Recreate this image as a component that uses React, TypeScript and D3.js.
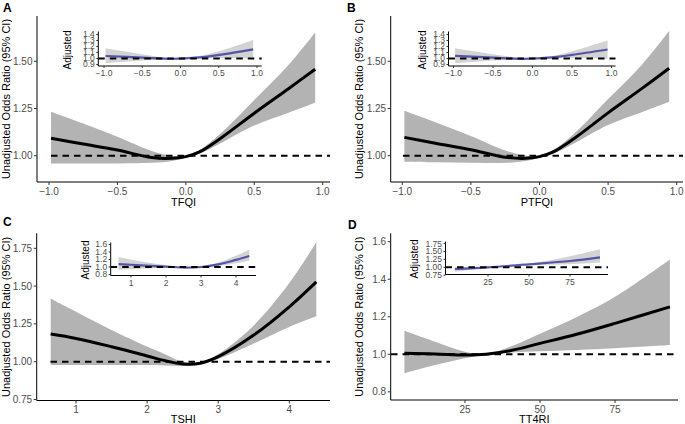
import React from "react";
import * as d3 from "d3";

// ---------- DATA ----------
// Panel A: TFQI
const tfqiX = [-0.985, -0.75, -0.5, -0.25, -0.1, 0, 0.1, 0.25, 0.5, 0.75, 0.945];
const tfqiFit = [1.092, 1.062, 1.03, 0.99, 0.986, 0.995, 1.02, 1.09, 1.225, 1.355, 1.458];
const tfqiLo = [0.959, 0.959, 0.959, 0.962, 0.972, 0.99, 1.01, 1.065, 1.16, 1.228, 1.281];
const tfqiHi = [1.233, 1.17, 1.1, 1.025, 1.0, 1.0, 1.03, 1.115, 1.295, 1.48, 1.653];
// Panel B: PTFQI
const ptfqiX = [-0.985, -0.75, -0.5, -0.25, -0.1, 0, 0.1, 0.25, 0.5, 0.75, 0.945];
const ptfqiFit = [1.097, 1.065, 1.032, 0.992, 0.986, 0.995, 1.02, 1.09, 1.227, 1.358, 1.463];
const ptfqiLo = [0.968, 0.965, 0.963, 0.962, 0.972, 0.99, 1.01, 1.065, 1.163, 1.232, 1.286];
const ptfqiHi = [1.238, 1.175, 1.105, 1.028, 1.0, 1.0, 1.03, 1.115, 1.3, 1.485, 1.66];
// Panel C: TSHI
const tshiX = [0.644, 1.0, 1.5, 2.0, 2.25, 2.5, 2.75, 3.0, 3.5, 4.0, 4.38];
const tshiFit = [1.183, 1.154, 1.099, 1.038, 1.007, 0.985, 0.99, 1.033, 1.176, 1.363, 1.528];
const tshiLo = [0.978, 0.978, 0.978, 0.978, 0.975, 0.972, 0.985, 1.018, 1.12, 1.23, 1.3];
const tshiHi = [1.418, 1.33, 1.21, 1.1, 1.05, 1.0, 0.998, 1.05, 1.24, 1.52, 1.79];
// Panel D: TT4RI
const tt4riX = [4.8, 15, 25, 32, 40, 50, 62.5, 75, 93.3];
const tt4riFit = [1.005, 1.002, 0.996, 1.0, 1.019, 1.058, 1.108, 1.165, 1.253];
const tt4riLo = [0.899, 0.943, 0.979, 0.998, 1.009, 1.016, 1.023, 1.032, 1.049];
const tt4riHi = [1.125, 1.067, 1.014, 1.002, 1.04, 1.11, 1.2, 1.306, 1.505];

// Insets (adjusted)
const tfqiAdjX = [-0.98, -0.5, -0.1, 0.25, 0.5, 0.95];
const tfqiAdjFit = [1.042, 1.015, 0.995, 1.02, 1.06, 1.153];
const tfqiAdjLo = [0.92, 0.965, 0.99, 1.0, 1.01, 1.003];
const tfqiAdjHi = [1.17, 1.07, 1.005, 1.04, 1.12, 1.31];

const ptfqiAdjX = [-0.98, -0.5, -0.1, 0.25, 0.5, 0.95];
const ptfqiAdjFit = [1.045, 1.015, 0.995, 1.02, 1.06, 1.15];
const ptfqiAdjLo = [0.92, 0.965, 0.99, 1.0, 1.01, 0.995];
const ptfqiAdjHi = [1.17, 1.07, 1.005, 1.04, 1.12, 1.3];

const tshiAdjX = [0.644, 1, 2, 2.6, 3, 3.5, 4, 4.38];
const tshiAdjFit = [1.075, 1.06, 1.01, 0.985, 1.0, 1.07, 1.19, 1.293];
const tshiAdjLo = [0.92, 0.94, 0.98, 0.975, 0.99, 1.03, 1.1, 1.17];
const tshiAdjHi = [1.27, 1.2, 1.05, 1.0, 1.02, 1.12, 1.3, 1.47];

const tt4riAdjX = [4.8, 25, 50, 75, 93.3];
const tt4riAdjFit = [0.946, 1.0, 1.095, 1.2, 1.316];
const tt4riAdjLo = [0.86, 0.98, 1.07, 1.1, 1.15];
const tt4riAdjHi = [1.0, 1.02, 1.12, 1.35, 1.57];

// Ticks
const fqiTicks = [-1, -0.5, 0, 0.5, 1];
const tshiTicks = [1, 2, 3, 4];
const tt4riTicks = [25, 50, 75];
const orTicksAB = [1.0, 1.25, 1.5];
const orTicksC = [0.75, 1.0, 1.25, 1.5, 1.75];
const orTicksD = [0.8, 1.0, 1.2, 1.4, 1.6];
const adjTicksAB = [0.9, 1.0, 1.1, 1.2, 1.3, 1.4];
const adjTicksC = [0.8, 1.0, 1.2, 1.4, 1.6];
const adjTicksD = [0.75, 1.0, 1.25, 1.5, 1.75];

const panelLabels = ["A", "B", "C", "D"];
const xTitles = ["TFQI", "PTFQI", "TSHI", "TT4RI"];
const yTitle = "Unadjusted Odds Ratio (95% CI)";
const insetTitle = "Adjusted";

const FONT = "'Liberation Sans', Arial, Helvetica, sans-serif";

const zip = (xs: number[], f: number[], lo: number[], hi: number[]) =>
  xs.map((x, i) => ({ x, f: f[i], lo: lo[i], hi: hi[i] }));

type Pt = { x: number; f: number; lo: number; hi: number };

function Plot(props: {
  xs: d3.ScaleLinear<number, number>;
  ys: d3.ScaleLinear<number, number>;
  ax: [number, number];
  ay: [number, number];
  data: Pt[];
  xTicks: number[];
  yTicks: number[];
  fx: (n: number) => string;
  fy: (n: number) => string;
  refStart: number;
  inset: boolean;
}) {
  const { xs, ys, ax, ay, data, xTicks, yTicks, fx, fy, refStart, inset } = props;
  const curve = d3.curveCatmullRom.alpha(0.5);
  const area = d3
    .area<Pt>()
    .x((d) => xs(d.x))
    .y0((d) => ys(d.lo))
    .y1((d) => ys(d.hi))
    .curve(curve);
  const line = d3
    .line<Pt>()
    .x((d) => xs(d.x))
    .y((d) => ys(d.f))
    .curve(curve);
  const fs = inset ? 8.5 : 10;
  const tl = inset ? 2 : 3;
  const bottom = ay[1];
  const left = ax[0];
  return (
    <g>
      <path d={area(data) || ""} fill={inset ? "#d3d3d3" : "#b3b3b3"} />
      <path
        d={line(data) || ""}
        fill="none"
        stroke={inset ? "rgba(30,30,150,0.7)" : "#000"}
        strokeWidth={inset ? 2.2 : 3}
      />
      <line
        x1={refStart}
        x2={ax[1]}
        y1={ys(1)}
        y2={ys(1)}
        stroke="#000"
        strokeWidth={2}
        strokeDasharray="6.5 5"
      />
      <line x1={left} x2={ax[1]} y1={bottom} y2={bottom} stroke="#000" strokeWidth={1} />
      <line x1={left} x2={left} y1={ay[0]} y2={bottom} stroke="#000" strokeWidth={1} />
      {xTicks.map((t) => (
        <g key={"x" + t}>
          <line x1={xs(t)} x2={xs(t)} y1={bottom} y2={bottom + tl} stroke="#333" strokeWidth={1} />
          <text
            x={xs(t)}
            y={bottom + tl + 2}
            dy={inset ? "0.75em" : "0.78em"}
            textAnchor="middle"
            fontSize={fs}
            fill="#4d4d4d"
            fontFamily={FONT}
          >
            {fx(t)}
          </text>
        </g>
      ))}
      {yTicks.map((t) => (
        <g key={"y" + t}>
          <line x1={left - tl} x2={left} y1={ys(t)} y2={ys(t)} stroke="#333" strokeWidth={1} />
          <text
            x={left - tl - 1.5}
            y={ys(t)}
            dy="0.35em"
            textAnchor="end"
            fontSize={fs}
            fill="#4d4d4d"
            fontFamily={FONT}
          >
            {fy(t)}
          </text>
        </g>
      ))}
    </g>
  );
}

export default function App() {
  const f1 = d3.format(".1f");
  const f2 = d3.format(".2f");
  const f0 = d3.format("d");

  const panels = [
    {
      label: [3, 12],
      xs: d3.scaleLinear().domain([-1, 1]).range([49, 322.7]),
      ys: d3.scaleLinear().domain([1, 1.5]).range([155.7, 61.3]),
      ax: [37, 330] as [number, number],
      ay: [16, 182] as [number, number],
      data: zip(tfqiX, tfqiFit, tfqiLo, tfqiHi),
      xTicks: fqiTicks, yTicks: orTicksAB, fx: f1, fy: f2,
      refStart: 51,
      yTitleX: 6, xTitleY: 206,
      inset: {
        xs: d3.scaleLinear().domain([-1, 1]).range([104, 257]),
        ys: d3.scaleLinear().domain([1, 1.4]).range([58.5, 34.5]),
        ax: [98.3, 261.7] as [number, number],
        ay: [31.5, 66] as [number, number],
        data: zip(tfqiAdjX, tfqiAdjFit, tfqiAdjLo, tfqiAdjHi),
        xTicks: fqiTicks, yTicks: adjTicksAB, fx: f1, fy: f1,
        titleX: 67, titleY: 50,
      },
    },
    {
      label: [347, 12],
      xs: d3.scaleLinear().domain([-1, 1]).range([402.3, 676.7]),
      ys: d3.scaleLinear().domain([1, 1.5]).range([155.7, 61.3]),
      ax: [390.7, 683] as [number, number],
      ay: [16, 182] as [number, number],
      data: zip(ptfqiX, ptfqiFit, ptfqiLo, ptfqiHi),
      xTicks: fqiTicks, yTicks: orTicksAB, fx: f1, fy: f2,
      refStart: 403,
      yTitleX: 359.5, xTitleY: 206,
      inset: {
        xs: d3.scaleLinear().domain([-1, 1]).range([453.5, 611.5]),
        ys: d3.scaleLinear().domain([1, 1.4]).range([58.5, 34.5]),
        ax: [448.5, 615.5] as [number, number],
        ay: [31.5, 66] as [number, number],
        data: zip(ptfqiAdjX, ptfqiAdjFit, ptfqiAdjLo, ptfqiAdjHi),
        xTicks: fqiTicks, yTicks: adjTicksAB, fx: f1, fy: f1,
        titleX: 422.5, titleY: 50,
      },
    },
    {
      label: [3, 226],
      xs: d3.scaleLinear().domain([1, 4]).range([76, 289.3]),
      ys: d3.scaleLinear().domain([1, 1.75]).range([361.7, 248.3]),
      ax: [36.7, 330] as [number, number],
      ay: [233.3, 400.5] as [number, number],
      data: zip(tshiX, tshiFit, tshiLo, tshiHi),
      xTicks: tshiTicks, yTicks: orTicksC, fx: f0, fy: f2,
      refStart: 50.5,
      yTitleX: 6, xTitleY: 423,
      inset: {
        xs: d3.scaleLinear().domain([1, 4]).range([131, 236]),
        ys: d3.scaleLinear().domain([1, 1.6]).range([267, 244.5]),
        ax: [110.7, 256] as [number, number],
        ay: [242.5, 275.5] as [number, number],
        data: zip(tshiAdjX, tshiAdjFit, tshiAdjLo, tshiAdjHi),
        xTicks: tshiTicks, yTicks: adjTicksC, fx: f0, fy: f1,
        titleX: 85.5, titleY: 260,
      },
    },
    {
      label: [348, 229],
      xs: d3.scaleLinear().domain([25, 75]).range([465, 615]),
      ys: d3.scaleLinear().domain([1, 1.6]).range([354.3, 241.7]),
      ax: [390.7, 678] as [number, number],
      ay: [233.3, 400] as [number, number],
      data: zip(tt4riX, tt4riFit, tt4riLo, tt4riHi),
      xTicks: tt4riTicks, yTicks: orTicksD, fx: f0, fy: f1,
      refStart: 391,
      yTitleX: 359.5, xTitleY: 423,
      inset: {
        xs: d3.scaleLinear().domain([25, 75]).range([488, 570]),
        ys: d3.scaleLinear().domain([1, 1.75]).range([267.3, 243.6]),
        ax: [445.5, 608] as [number, number],
        ay: [241.5, 274.5] as [number, number],
        data: zip(tt4riAdjX, tt4riAdjFit, tt4riAdjLo, tt4riAdjHi),
        xTicks: tt4riTicks, yTicks: adjTicksD, fx: f0, fy: f2,
        titleX: 414, titleY: 259,
      },
    },
  ];

  return (
    <svg
      width={685}
      height={424}
      style={{ position: "absolute", left: 0, top: 0, background: "#fff" }}
      fontFamily={FONT}
    >
      <rect x={0} y={0} width={685} height={424} fill="#fff" />
      {panels.map((p, i) => {
        const ins = p.inset;
        const xMid = (p.ax[0] + p.ax[1]) / 2;
        const yMid = (p.ay[0] + p.ay[1]) / 2;
        return (
          <g key={i}>
            <Plot
              xs={p.xs} ys={p.ys} ax={p.ax} ay={p.ay} data={p.data}
              xTicks={p.xTicks} yTicks={p.yTicks} fx={p.fx} fy={p.fy}
              refStart={p.refStart} inset={false}
            />
            <text x={xMid} y={p.xTitleY} textAnchor="middle" fontSize={11} fill="#000">
              {xTitles[i]}
            </text>
            <text
              transform={`translate(${p.yTitleX},${yMid}) rotate(-90)`}
              dy="0.35em"
              textAnchor="middle"
              fontSize={11}
              fill="#000"
            >
              {yTitle}
            </text>
            <text x={p.label[0]} y={p.label[1]} fontSize={12} fontWeight="bold" fill="#000">
              {panelLabels[i]}
            </text>
            <Plot
              xs={ins.xs} ys={ins.ys} ax={ins.ax} ay={ins.ay} data={ins.data}
              xTicks={ins.xTicks} yTicks={ins.yTicks} fx={ins.fx} fy={ins.fy}
              refStart={ins.ax[0]} inset={true}
            />
            <text
              transform={`translate(${ins.titleX},${ins.titleY}) rotate(-90)`}
              dy="0.35em"
              textAnchor="middle"
              fontSize={10}
              fill="#000"
            >
              {insetTitle}
            </text>
          </g>
        );
      })}
    </svg>
  );
}
